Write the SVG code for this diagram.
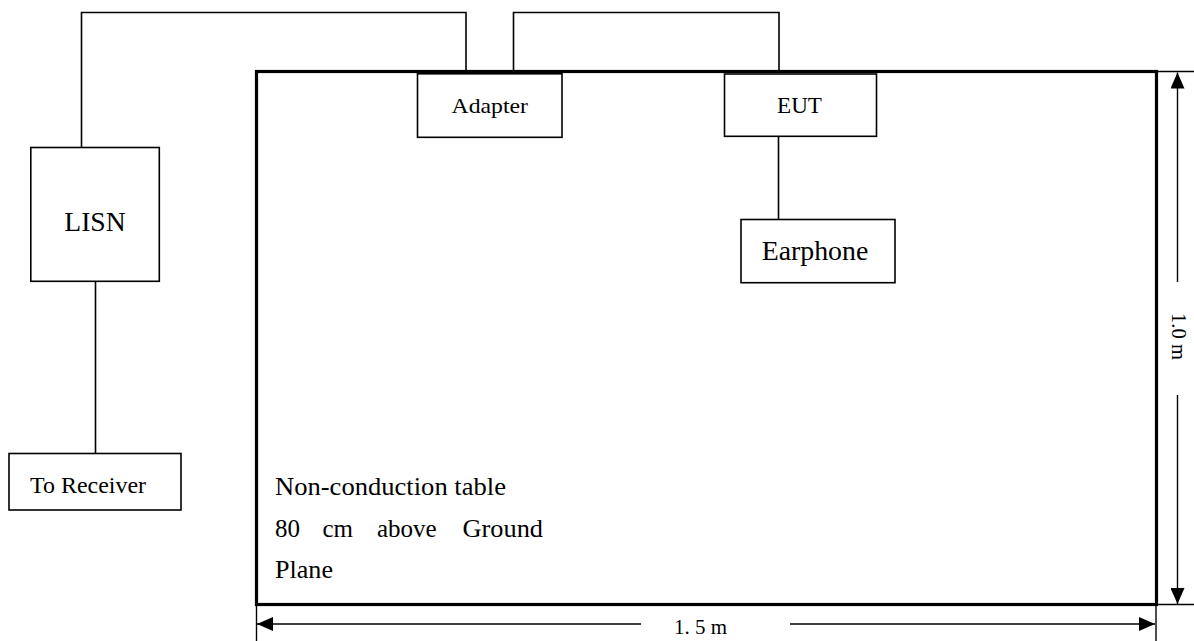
<svg xmlns="http://www.w3.org/2000/svg" width="1194" height="641" viewBox="0 0 1194 641">
<defs>
<style>
text{font-family:"Liberation Serif","Times New Roman",serif;fill:#000}
.box{fill:#fff;stroke:#000;stroke-width:1.6}
.wire{fill:none;stroke:#000;stroke-width:1.6}
.dim{fill:none;stroke:#000;stroke-width:1.4}
.table{fill:none;stroke:#000;stroke-width:3.2}
</style>
<marker id="ah" viewBox="0 0 16 14" refX="16" refY="7" markerWidth="16" markerHeight="14" markerUnits="userSpaceOnUse" orient="auto">
<path d="M0,0 L16,7 L0,14 Z" fill="#000"/>
</marker>
</defs>
<rect width="1194" height="641" fill="#fff"/>
<g id="table">
<rect class="table" x="256.5" y="71.5" width="900" height="533"/>
<text x="275" y="494.5" font-size="25" textLength="231" lengthAdjust="spacingAndGlyphs">Non-conduction table</text>
<text y="536.5" font-size="25"><tspan x="275">80 </tspan><tspan x="322.5">cm </tspan><tspan x="377">above </tspan><tspan x="462.5" textLength="80.5" lengthAdjust="spacingAndGlyphs">Ground</tspan></text>
<text x="275" y="578" font-size="25" textLength="58" lengthAdjust="spacingAndGlyphs">Plane</text>
</g>
<g id="connectors">
<polyline class="wire" points="81.5,147.5 81.5,12.5 466,12.5 466,71"/>
<polyline class="wire" points="513.5,71 513.5,12.5 779,12.5 779,72"/>
<line class="wire" x1="778.5" y1="136" x2="778.5" y2="219.5"/>
<line class="wire" x1="95.5" y1="281" x2="95.5" y2="453.5"/>
</g>
<g id="dimensions">
<line class="dim" x1="256.5" y1="605" x2="256.5" y2="641"/>
<line class="dim" x1="1156" y1="605" x2="1156" y2="641"/>
<line class="dim" x1="1157" y1="71.5" x2="1194" y2="71.5"/>
<line class="dim" x1="1157" y1="604.5" x2="1194" y2="604.5"/>
<line class="dim" x1="641" y1="624" x2="257" y2="624" marker-end="url(#ah)"/>
<line class="dim" x1="790" y1="624" x2="1155" y2="624" marker-end="url(#ah)"/>
<text x="674" y="633.5" font-size="21" textLength="53" lengthAdjust="spacingAndGlyphs">1. 5 m</text>
<line class="dim" x1="1177.5" y1="282" x2="1177.5" y2="72.5" marker-end="url(#ah)"/>
<line class="dim" x1="1177.5" y1="395" x2="1177.5" y2="604" marker-end="url(#ah)"/>
<text transform="translate(1172,313) rotate(90)" font-size="21" textLength="47" lengthAdjust="spacingAndGlyphs">1.0 m</text>
</g>
<g id="lisn">
<rect class="box" x="30.8" y="147.5" width="128.5" height="133.8"/>
<text x="64.3" y="230.7" font-size="28" textLength="61.4" lengthAdjust="spacingAndGlyphs">LISN</text>
</g>
<g id="receiver">
<rect class="box" x="9" y="453.5" width="172" height="56.5"/>
<text x="30" y="492.7" font-size="23.5" textLength="116" lengthAdjust="spacingAndGlyphs">To Receiver</text>
</g>
<g id="adapter">
<rect class="box" x="417.5" y="73.8" width="144.5" height="63.5"/>
<text x="451.6" y="113.3" font-size="22" textLength="76.4" lengthAdjust="spacingAndGlyphs">Adapter</text>
</g>
<g id="eut">
<rect class="box" x="724.5" y="74" width="152" height="62.3"/>
<text x="777" y="113.3" font-size="23" textLength="45" lengthAdjust="spacingAndGlyphs">EUT</text>
</g>
<g id="earphone">
<rect class="box" x="741" y="219.5" width="154" height="63.2"/>
<text x="761.7" y="260" font-size="28" textLength="106.6" lengthAdjust="spacingAndGlyphs">Earphone</text>
</g>
</svg>
